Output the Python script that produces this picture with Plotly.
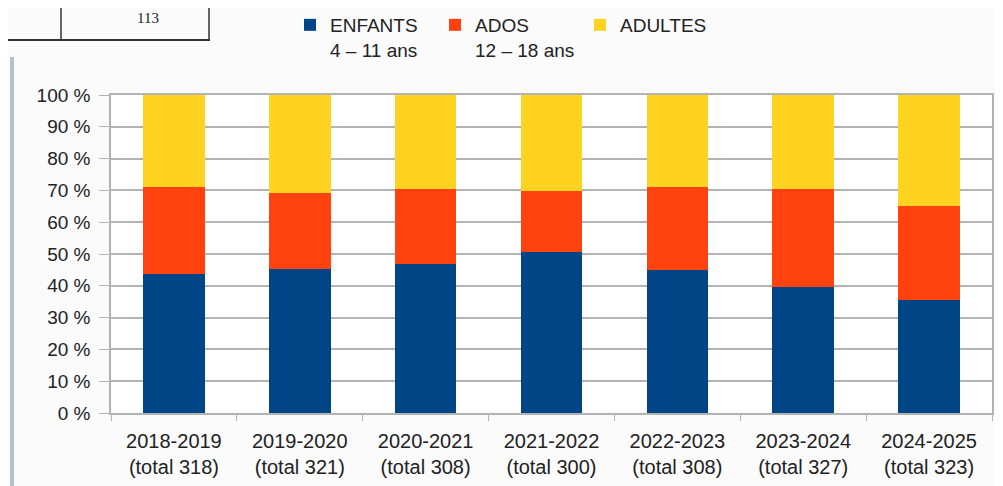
import plotly.graph_objects as go

categories = ["2018-2019", "2019-2020", "2020-2021", "2021-2022", "2022-2023", "2023-2024", "2024-2025"]
totals = [318, 321, 308, 300, 308, 327, 323]
enfants = [43.6, 45.2, 46.8, 50.7, 45.0, 39.7, 35.5]
ados = [27.6, 23.9, 23.7, 19.2, 26.2, 30.8, 29.6]
adultes = [28.8, 30.9, 29.5, 30.1, 28.8, 29.5, 34.9]
series_names = ["ENFANTS<br>4 – 11 ans", "ADOS<br>12 – 18 ans", "ADULTES"]
colors = ["#004586", "#ff420e", "#ffd320"]
y_ticks = [0, 10, 20, 30, 40, 50, 60, 70, 80, 90, 100]

labels = [f"{c}<br>(total {t})" for c, t in zip(categories, totals)]
y_ticktext = [f"{v} %" for v in y_ticks]

# the page body has an 8px margin: the figure starts at (8, 8) on screen
OFF = 8
W, H = 1003 - OFF, 486 - OFF
L, T = 111 - OFF, 95 - OFF
PLOT_R, PLOT_B = 992 - OFF, 413 - OFF
R, B = W - PLOT_R, H - PLOT_B
PW, PH = PLOT_R - L, PLOT_B - T


def px(x):  # screen x -> paper
    return (x - OFF - L) / PW


def py(y):  # screen y -> paper
    return (PLOT_B - (y - OFF)) / PH


FONT = "Liberation Sans, Arial, sans-serif"
TXT = "#222222"

fig = go.Figure()
for name, vals, col in zip(series_names, [enfants, ados, adultes], colors):
    fig.add_trace(go.Bar(x=labels, y=vals, name=name, marker=dict(color=col, line=dict(width=0))))

grid = "#b3b3b3"
fig.update_layout(
    width=W, height=H,
    margin=dict(l=L, r=R, t=T, b=B, autoexpand=False),
    barmode="stack",
    bargap=0.51,
    paper_bgcolor="#fbfbfc",
    plot_bgcolor="white",
    font=dict(family=FONT, size=19, color=TXT),
    showlegend=True,
    legend=dict(
        orientation="h", x=px(290), xanchor="left", y=py(6), yanchor="top",
        traceorder="normal", valign="top", bgcolor="rgba(0,0,0,0)",
        font=dict(family=FONT, size=19, color=TXT),
        entrywidth=100, entrywidthmode="pixels",
    ),
    xaxis=dict(
        showline=True, linecolor=grid, linewidth=1.5, mirror=True,
        ticks="outside", tickson="boundaries", ticklen=6, tickcolor=grid,
        tickfont=dict(family=FONT, size=20, color=TXT),
        ticklabelstandoff=9,
        showgrid=False,
    ),
    yaxis=dict(
        range=[0, 100], tickmode="array", tickvals=y_ticks, ticktext=y_ticktext,
        showline=True, linecolor=grid, linewidth=1.5, mirror=True,
        ticks="outside", ticklen=10, tickcolor=grid,
        showgrid=True, gridcolor=grid, gridwidth=1.5,
        tickfont=dict(family=FONT, size=19, color=TXT),
        ticklabelstandoff=5,
    ),
    shapes=[
        # fragment of a table above the chart
        dict(type="line", xref="paper", yref="paper", x0=px(0), x1=px(210), y0=py(40), y1=py(40),
             line=dict(color="#333333", width=2)),
        dict(type="line", xref="paper", yref="paper", x0=px(61), x1=px(61), y0=py(40), y1=py(0),
             line=dict(color="#333333", width=1.5)),
        dict(type="line", xref="paper", yref="paper", x0=px(209), x1=px(209), y0=py(40), y1=py(0),
             line=dict(color="#333333", width=1.5)),
        # left page border
        dict(type="line", xref="paper", yref="paper", x0=px(12), x1=px(12), y0=py(57), y1=py(490),
             line=dict(color="#b4c0cf", width=4)),
    ],
    annotations=[
        dict(text="113", xref="paper", yref="paper", x=px(135), y=py(8), showarrow=False,
             font=dict(family="Liberation Serif, Times New Roman, serif", size=15, color=TXT)),
    ],
)

fig.write_html("out.html")
